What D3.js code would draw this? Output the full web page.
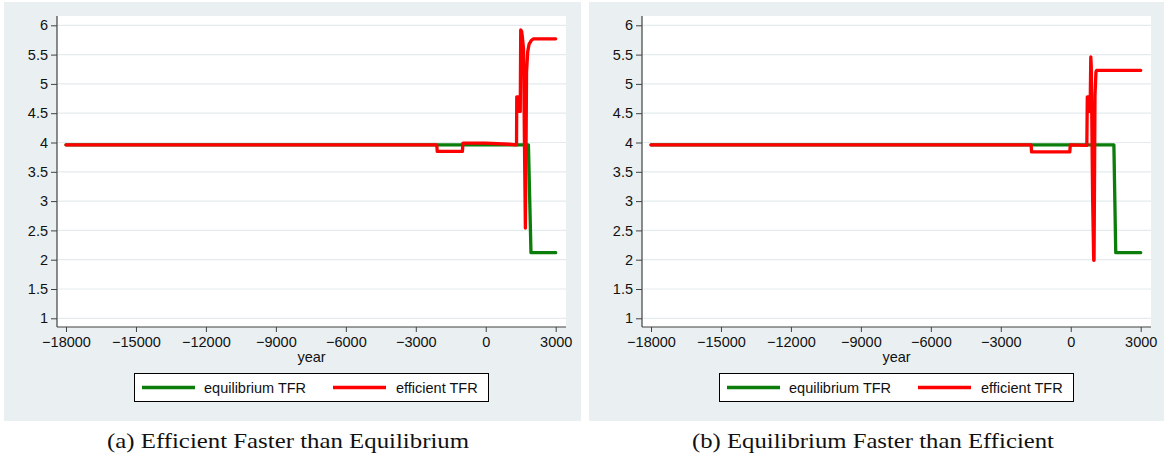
<!DOCTYPE html>
<html>
<head>
<meta charset="utf-8">
<script src="https://cdn.jsdelivr.net/npm/d3@7"></script>
<style>
  body { margin: 0; background: #ffffff; }
  svg { display: block; }
</style>
</head>
<body>
<svg id="chart" width="1164" height="459"></svg>
<script>
// ---- data ----
const yearTicks = [-18000, -15000, -12000, -9000, -6000, -3000, 0, 3000];
const tfrTicks = [1, 1.5, 2, 2.5, 3, 3.5, 4, 4.5, 5, 5.5, 6];
const seriesNames = ["equilibrium TFR", "efficient TFR"];
const captions = ["(a) Efficient Faster than Equilibrium", "(b) Equilibrium Faster than Efficient"];

// panel (a): efficient transition faster than equilibrium
const eqYearA = [-18000, 1830, 1940, 3000];
const eqTfrA  = [3.96, 3.96, 2.12, 2.12];
const effYearA = [-18000, -2100, -2080, -1000, -980, 0, 1000, 1320, 1330, 1420, 1430, 1480, 1500, 1540, 1570, 1620, 1660, 1700, 1730, 1750, 1800, 1860, 1950, 2050, 3000];
const effTfrA  = [3.96, 3.96, 3.85, 3.85, 3.99, 3.99, 3.97, 3.96, 4.78, 4.78, 4.53, 4.53, 5.92, 5.90, 5.80, 5.60, 4.00, 2.54, 4.00, 5.20, 5.55, 5.68, 5.74, 5.77, 5.77];

// panel (b): equilibrium transition faster than efficient
const eqYearB = [-18000, 1850, 1930, 3000];
const eqTfrB  = [3.96, 3.96, 2.12, 2.12];
const effYearB = [-18000, -1700, -1680, -40, -20, 690, 710, 760, 775, 830, 860, 880, 940, 985, 1000, 1040, 1080, 1110, 3000];
const effTfrB  = [3.96, 3.96, 3.84, 3.84, 3.96, 3.95, 4.78, 4.78, 4.53, 4.53, 5.46, 5.30, 3.00, 1.99, 1.99, 4.80, 5.20, 5.23, 5.23];

const panels = [
  { eqYear: eqYearA, eqTfr: eqTfrA, effYear: effYearA, effTfr: effTfrA, caption: captions[0], dx: 0 },
  { eqYear: eqYearB, eqTfr: eqTfrB, effYear: effYearB, effTfr: effTfrB, caption: captions[1], dx: 585 }
];

// ---- layout ----
const colors = { eq: "#0a7d0a", eff: "#ff0000" };
const bg = "#eaf0f2";
const gridColor = "#e3ebed";
const axisColor = "#404040";
const sansFont = "'Liberation Sans', Arial, Helvetica, sans-serif";
const serifFont = "'Liberation Serif', 'Times New Roman', serif";

const plot = { left: 57, right: 566, top: 16, bottom: 327 };
const x = d3.scaleLinear().domain([-18000, 3000]).range([66, 555.7]);
const y = d3.scaleLinear().domain([1, 6]).range([318.3, 25.3]);

const fmtYear = d => (d < 0 ? "\u2212" + Math.abs(d) : String(d));
const fmtTfr = d => String(d);

const svg = d3.select("#chart");

const line = d3.line().x(d => x(d[0])).y(d => y(d[1]));

panels.forEach(p => {
  const g = svg.append("g").attr("transform", `translate(${p.dx},0)`);

  // panel background
  g.append("rect").attr("x", 4).attr("y", 2).attr("width", 577).attr("height", 419).attr("fill", bg);

  // plot region
  g.append("rect")
    .attr("x", plot.left).attr("y", plot.top)
    .attr("width", plot.right - plot.left).attr("height", plot.bottom - plot.top)
    .attr("fill", "#ffffff");

  // gridlines
  g.append("g").selectAll("line").data(tfrTicks).join("line")
    .attr("x1", plot.left + 1).attr("x2", plot.right)
    .attr("y1", d => y(d)).attr("y2", d => y(d))
    .attr("stroke", gridColor).attr("stroke-width", 1.2);

  // y axis
  const yAxis = g.append("g").attr("transform", `translate(${plot.left},0)`)
    .call(d3.axisLeft(y).tickValues(tfrTicks).tickFormat(fmtTfr).tickSize(6).tickPadding(3));
  yAxis.select(".domain").attr("d", `M0,${plot.top}V${plot.bottom}`);

  // x axis
  const xAxis = g.append("g").attr("transform", `translate(0,${plot.bottom})`)
    .call(d3.axisBottom(x).tickValues(yearTicks).tickFormat(fmtYear).tickSize(5).tickPadding(5));
  xAxis.select(".domain").attr("d", `M${plot.left},0H${plot.right}`);

  [yAxis, xAxis].forEach(a => {
    a.select(".domain").attr("stroke", axisColor).attr("stroke-width", 1.2);
    a.selectAll(".tick line").attr("stroke", axisColor).attr("stroke-width", 1);
    a.selectAll(".tick text").attr("fill", "#111").style("font-family", sansFont).style("font-size", "14.5px");
  });

  // x axis title
  g.append("text")
    .attr("x", (plot.left + plot.right) / 2).attr("y", 362)
    .attr("text-anchor", "middle")
    .style("font-family", sansFont).style("font-size", "14.5px").attr("fill", "#111")
    .text("year");

  // series
  const eqData = p.eqYear.map((yr, i) => [yr, p.eqTfr[i]]);
  const effData = p.effYear.map((yr, i) => [yr, p.effTfr[i]]);
  [[eqData, colors.eq], [effData, colors.eff]].forEach(([data, c]) => {
    g.append("path").datum(data)
      .attr("d", line)
      .attr("fill", "none").attr("stroke", c).attr("stroke-width", 3.3)
      .attr("stroke-linejoin", "round").attr("stroke-linecap", "round");
  });

  // legend
  const lg = g.append("g");
  lg.append("rect").attr("x", 134.5).attr("y", 373.5).attr("width", 354).attr("height", 28)
    .attr("fill", "#ffffff").attr("stroke", "#000").attr("stroke-width", 1);
  const items = [
    { name: seriesNames[0], color: colors.eq, x0: 142, x1: 195, tx: 204 },
    { name: seriesNames[1], color: colors.eff, x0: 333, x1: 386, tx: 396 }
  ];
  items.forEach(it => {
    lg.append("line").attr("x1", it.x0).attr("x2", it.x1).attr("y1", 387.5).attr("y2", 387.5)
      .attr("stroke", it.color).attr("stroke-width", 3.3);
    lg.append("text").attr("x", it.tx).attr("y", 392.5)
      .style("font-family", sansFont).style("font-size", "14.5px").attr("fill", "#111")
      .text(it.name);
  });

  // caption
  g.append("text")
    .attr("x", 288).attr("y", 448)
    .attr("text-anchor", "middle")
    .attr("textLength", 362).attr("lengthAdjust", "spacingAndGlyphs")
    .style("font-family", serifFont).style("font-size", "21px").attr("fill", "#111")
    .text(p.caption);
});
</script>
</body>
</html>
